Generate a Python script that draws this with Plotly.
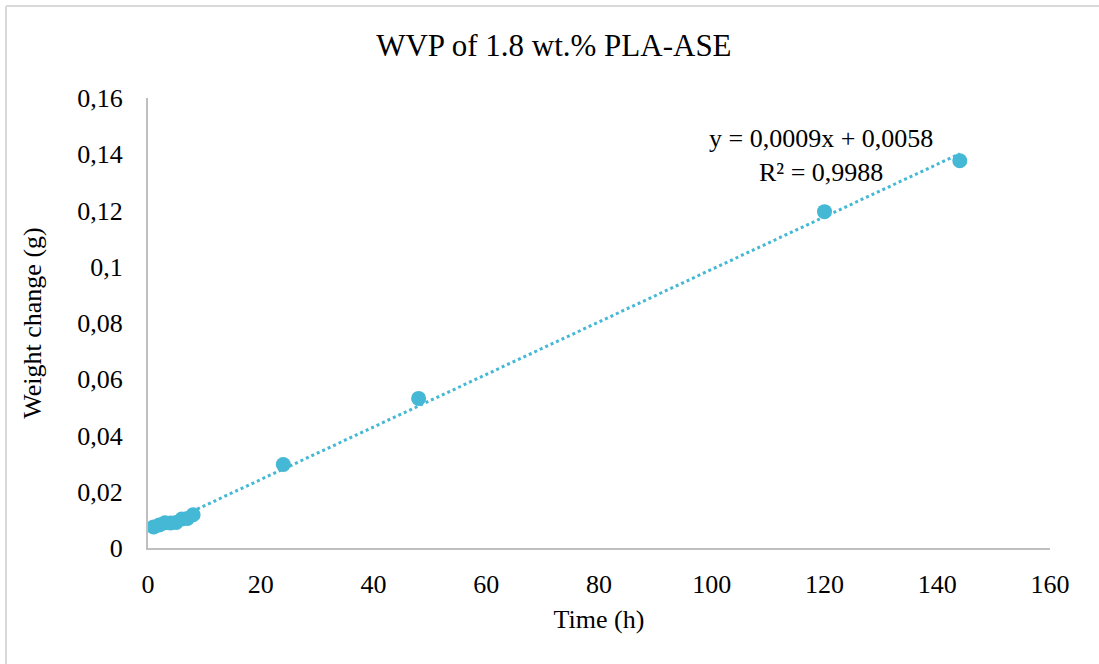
import numpy as np
import plotly.graph_objects as go

# Measured weight change of the 1.8 wt.% PLA-ASE film over time
time_h = [1, 2, 3, 4, 5, 6, 7, 8, 24, 48, 120, 144]
weight_change_g = [0.0075, 0.0082, 0.0090, 0.0089, 0.0091, 0.0103,
                   0.0105, 0.0118, 0.0297, 0.0532, 0.1196, 0.1377]

y_tick_vals = [0, 0.02, 0.04, 0.06, 0.08, 0.1, 0.12, 0.14, 0.16]
y_tick_text = ["0", "0,02", "0,04", "0,06", "0,08", "0,1", "0,12", "0,14", "0,16"]
x_tick_vals = [0, 20, 40, 60, 80, 100, 120, 140, 160]

color = "#44B8D4"
font = "Liberation Serif, Times New Roman, serif"

# Linear trendline (least squares) across the measured range
slope, intercept = np.polyfit(time_h, weight_change_g, 1)
fit_x = np.array([min(time_h), max(time_h)])
fit_y = slope * fit_x + intercept

W, H = 1099, 664
ml, mr, mt, mb = 148, 49, 98, 116
pw, ph = W - ml - mr, H - mt - mb


def px(xpix):
    return (xpix - ml) / pw


def py(ypix):
    return (H - mb - ypix) / ph


fig = go.Figure()
fig.add_trace(go.Scatter(
    x=fit_x, y=fit_y, mode="lines",
    line=dict(color=color, width=3, dash="dot"),
    hoverinfo="skip", showlegend=False,
))
fig.add_trace(go.Scatter(
    x=time_h, y=weight_change_g, mode="markers",
    marker=dict(color=color, size=15),
    showlegend=False,
))

# trendline equation label
fig.add_annotation(
    x=px(821), y=py(155), xref="paper", yref="paper", showarrow=False,
    xanchor="center", yanchor="middle",
    text="y = 0,0009x + 0,0058<br>R² = 0,9988", align="center",
    font=dict(family=font, size=26, color="#000000"),
)

# chart frame lines (top and left)
fig.add_shape(type="line", xref="paper", yref="paper",
              x0=px(6), x1=px(1099), y0=py(6), y1=py(6),
              line=dict(color="#d9d9d9", width=2))
fig.add_shape(type="line", xref="paper", yref="paper",
              x0=px(6), x1=px(6), y0=py(6), y1=py(664),
              line=dict(color="#d9d9d9", width=2))

fig.update_layout(
    width=W, height=H,
    margin=dict(l=ml, r=mr, t=mt, b=mb),
    paper_bgcolor="white", plot_bgcolor="white",
    title=dict(text="WVP of 1.8 wt.% PLA-ASE", x=0.504, xanchor="center",
               y=1 - 45 / H, yanchor="middle",
               font=dict(family=font, size=31, color="#000000")),
    font=dict(family=font, size=26, color="#000000"),
    xaxis=dict(range=[0, 160], tickvals=x_tick_vals, showgrid=False,
               zeroline=False, showline=True, linecolor="#bfbfbf", linewidth=2,
               ticks="", ticklabelstandoff=12,
               title=dict(text="Time (h)", standoff=12,
                          font=dict(family=font, size=26))),
    yaxis=dict(range=[0, 0.16], tickvals=y_tick_vals, ticktext=y_tick_text,
               showgrid=False, zeroline=False, showline=True,
               linecolor="#bfbfbf", linewidth=2, ticks="",
               ticklabelstandoff=18,
               title=dict(text="Weight change (g)", standoff=28,
                          font=dict(family=font, size=26))),
)

fig.write_html("out.html")
